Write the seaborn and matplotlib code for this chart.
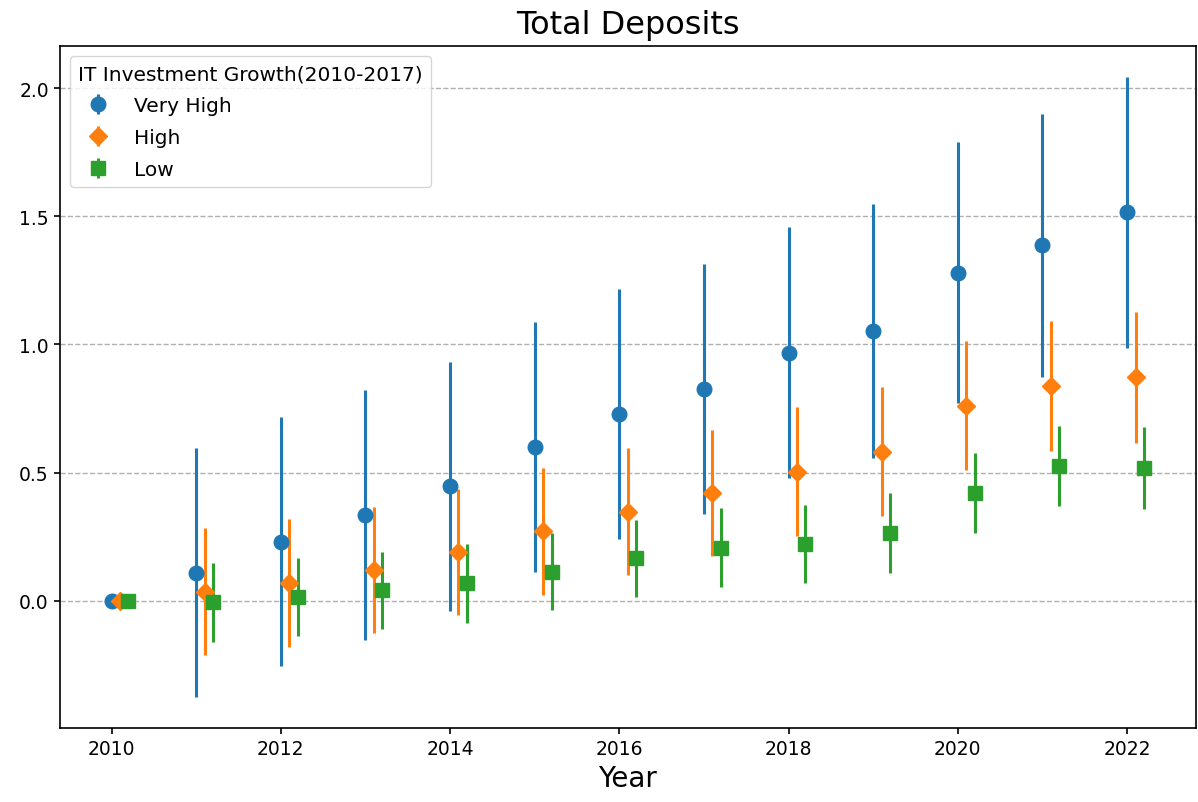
import numpy as np
import pandas as pd
import matplotlib
matplotlib.use("Agg")
import matplotlib.pyplot as plt
import seaborn as sns

years = [2010, 2011, 2012, 2013, 2014, 2015, 2016, 2017, 2018, 2019, 2020, 2021, 2022]
groups = ["Very High", "High", "Low"]

very_high = [0.0, 0.110, 0.231, 0.333, 0.446, 0.599, 0.728, 0.826, 0.967, 1.053, 1.280, 1.386, 1.515]
very_high_err = [0.0, 0.486, 0.487, 0.488, 0.487, 0.487, 0.489, 0.488, 0.489, 0.495, 0.510, 0.512, 0.528]
high = [0.0, 0.035, 0.070, 0.119, 0.189, 0.271, 0.348, 0.420, 0.504, 0.582, 0.761, 0.838, 0.872]
high_err = [0.0, 0.247, 0.250, 0.246, 0.245, 0.247, 0.247, 0.247, 0.250, 0.252, 0.251, 0.255, 0.255]
low = [0.0, -0.006, 0.014, 0.040, 0.069, 0.114, 0.166, 0.206, 0.223, 0.265, 0.421, 0.526, 0.519]
low_err = [0.0, 0.155, 0.152, 0.152, 0.154, 0.150, 0.150, 0.154, 0.152, 0.155, 0.157, 0.157, 0.160]

df = pd.DataFrame({
    "Year": years * 3,
    "Group": np.repeat(groups, len(years)),
    "Value": very_high + high + low,
    "Err": very_high_err + high_err + low_err,
})

sns.set_style("ticks")
plt.rcParams["font.family"] = ["DejaVu Sans"]
plt.rcParams["text.color"] = "black"
plt.rcParams["axes.labelcolor"] = "black"
plt.rcParams["xtick.color"] = "black"
plt.rcParams["ytick.color"] = "black"
palette = sns.color_palette("tab10", 3)
markers = ["o", "D", "s"]
sizes = [10.5, 9.5, 9.5]
offsets = [0.0, 0.1, 0.2]

fig = plt.figure(figsize=(11.98, 8.03), dpi=100)
ax = fig.add_axes([0.050, 0.092, 0.948, 0.8495])

for g, c, m, ms, off in zip(groups, palette, markers, sizes, offsets):
    d = df[df["Group"] == g]
    ax.errorbar(d["Year"] + off, d["Value"], yerr=d["Err"], fmt=m, color=c,
                markersize=ms, elinewidth=2.2, capsize=0, label=g, zorder=3)

ax.set_xticks(range(2010, 2023, 2))
ax.grid(axis="y", linestyle="--", color="#b0b0b0", linewidth=1)
ax.set_axisbelow(True)
for s in ax.spines.values():
    s.set_linewidth(1.2)
    s.set_color("black")
ax.tick_params(labelsize=13.5, length=4.5, width=1.2)
ax.set_title("Total Deposits", fontsize=23, pad=9)
ax.set_xlabel("Year", fontsize=20)
ax.legend(title="IT Investment Growth(2010-2017)", loc="upper left",
          fontsize=14.5, title_fontsize=14.5, frameon=True, alignment="left",
          labelspacing=0.65)

fig.savefig("out.png", dpi=100)
